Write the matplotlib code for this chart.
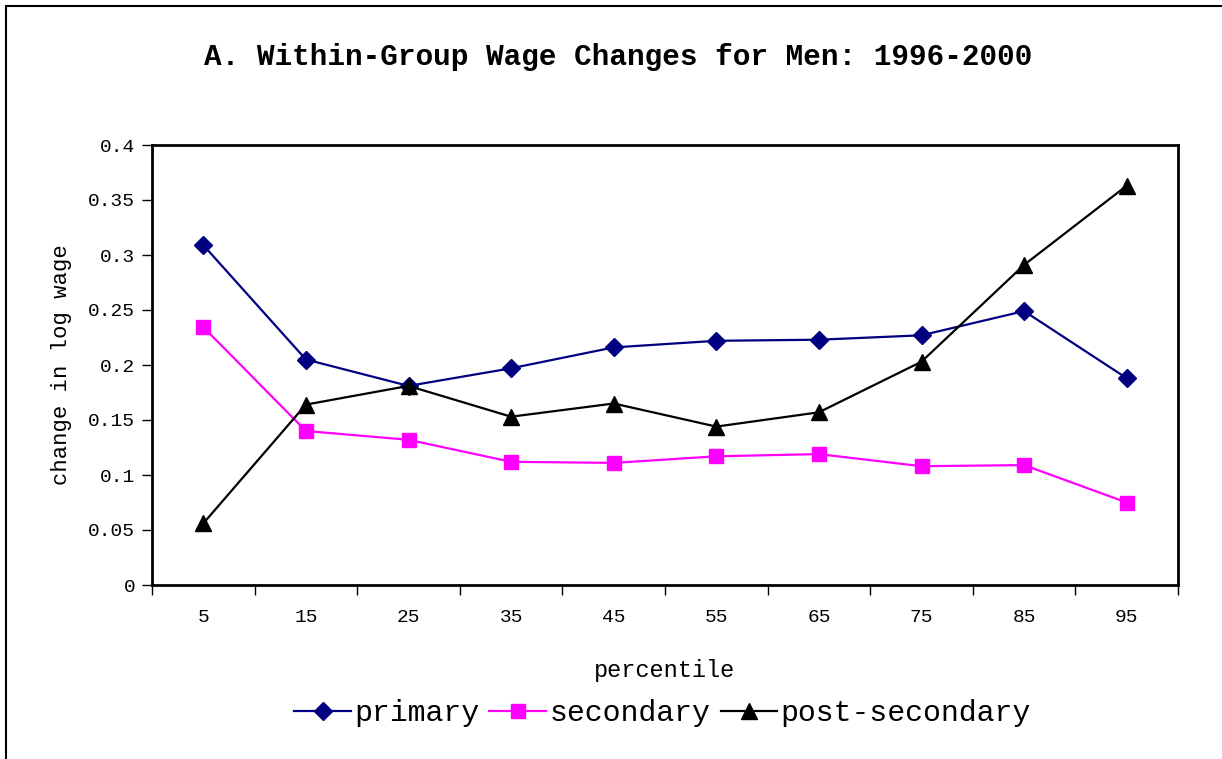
import matplotlib
matplotlib.use("Agg")
import matplotlib.pyplot as plt
from matplotlib.patches import Rectangle

# Values.
percentiles = ["5", "15", "25", "35", "45", "55", "65", "75", "85", "95"]
primary = [0.309, 0.205, 0.181, 0.197, 0.216, 0.222, 0.223, 0.227, 0.249, 0.188]
secondary = [0.2345, 0.140, 0.132, 0.112, 0.111, 0.117, 0.119, 0.108, 0.109, 0.075]
post_secondary = [0.056, 0.164, 0.181, 0.153, 0.165, 0.144, 0.157, 0.203, 0.291, 0.363]
y_ticks = [0, 0.05, 0.1, 0.15, 0.2, 0.25, 0.3, 0.35, 0.4]
y_tick_labels = ["0", "0.05", "0.1", "0.15", "0.2", "0.25", "0.3", "0.35", "0.4"]

plt.rcParams["font.family"] = ["Liberation Mono", "DejaVu Sans Mono"]

fig = plt.figure(figsize=(12.22, 7.59), dpi=100)
ax = fig.add_axes([152 / 1222, 1 - 585 / 759, 1026 / 1222, 440 / 759])

# outer chart border (open on the right and bottom, as in the source)
fig.patches.append(Rectangle((6 / 1222, -0.02), 1.05, 1.02 - 6 / 759,
                             transform=fig.transFigure, fill=False,
                             edgecolor="black", linewidth=1.5))

x = list(range(len(percentiles)))
ax.plot(x, primary, color="#000080", marker="D", markersize=9, linewidth=1.6,
        label="primary")
ax.plot(x, secondary, color="#FF00FF", marker="s", markersize=10, linewidth=1.6,
        label="secondary")
ax.plot(x, post_secondary, color="black", marker="^", markersize=11, linewidth=1.6,
        label="post-secondary")

ax.set_xlim(-0.5, len(percentiles) - 0.5)
ax.set_ylim(0, 0.4)
ax.set_yticks(y_ticks)
ax.set_yticklabels(y_tick_labels, fontsize=14)
ax.set_xticks([i - 0.5 for i in range(len(percentiles) + 1)])
ax.set_xticklabels([])
ax.set_xticks(x, minor=True)
ax.set_xticklabels(percentiles, minor=True, fontsize=14)
ax.tick_params(axis="x", which="minor", length=0, pad=17)
ax.tick_params(axis="x", which="major", length=7, width=1, direction="out")
ax.tick_params(axis="y", length=7, width=1, direction="out", pad=5)
for spine in ax.spines.values():
    spine.set_linewidth(2)

ax.set_xlabel("percentile", fontsize=17, labelpad=24)
ax.set_ylabel("change in log wage", fontsize=16, labelpad=12)
fig.text(0.5057, 1 - 57 / 759, "A. Within-Group Wage Changes for Men: 1996-2000",
         ha="center", va="center", fontsize=21.2, fontweight="bold")

fig.legend(loc="center", bbox_to_anchor=(0.542, 1 - 713 / 759), ncol=3,
           frameon=False, fontsize=21.5, handlelength=1.9, handletextpad=0.1,
           columnspacing=0.35, borderaxespad=0)

fig.savefig("out.png", dpi=100)
